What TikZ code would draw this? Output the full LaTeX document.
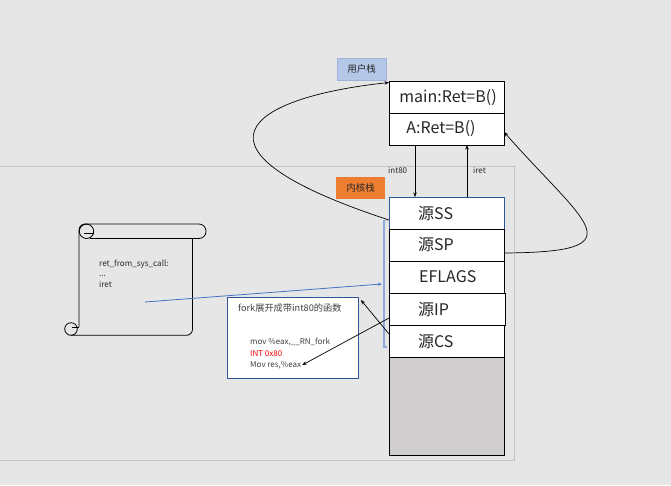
\documentclass[tikz,border=0pt]{standalone}
\usepackage{fontspec}
\setmainfont{Noto Sans CJK SC}
\usetikzlibrary{arrows.meta}
\definecolor{bgc}{HTML}{E6E6E6}
\definecolor{areab}{HTML}{C4C4C4}
\definecolor{ublue}{HTML}{B4C7E7}
\definecolor{ubord}{HTML}{9DB3D8}
\definecolor{korange}{HTML}{ED7D31}
\definecolor{dblue}{HTML}{2F5597}
\definecolor{mblue}{HTML}{4472C4}
\definecolor{lblue}{HTML}{8FAADC}
\definecolor{stgray}{HTML}{D0CECE}
\definecolor{txt}{HTML}{262626}
\definecolor{ftxt}{HTML}{404040}
\begin{document}
\begin{tikzpicture}[x=1pt,y=-1pt,
  stk/.style={draw=black, line width=0.9pt, fill=white, minimum width=115pt, minimum height=32pt, anchor=north west, inner sep=0pt, outer sep=0pt},
  bigt/.style={font=\fontsize{16}{18}\selectfont, text=txt, inner sep=0pt},
  tagbox/.style={font=\fontsize{9.5}{11}\selectfont, text=txt, inner sep=0pt, minimum width=49pt, minimum height=22.5pt, anchor=north west, outer sep=0pt},
  arr/.style={-{Stealth[length=4.5pt,width=3.5pt]}, line width=0.7pt, draw=black},
  small/.style={font=\fontsize{8}{9}\selectfont, text=txt, inner sep=0pt},
  ftext/.style={font=\fontsize{8}{9}\selectfont, text=ftxt, inner sep=0pt, anchor=west},
  scrl/.style={line width=0.8pt, draw=black}
]
\useasboundingbox (0,0) rectangle (671,485);
\fill[bgc] (0,0) rectangle (671,485);
% kernel area
\draw[areab, line width=0.8pt] (-3,166) rectangle (514,460);

% user stack
\node[stk] (main) at (389,81) {};
\node[stk] (A) at (389,113) {};
\node[bigt] (maintxt) at (448,97.5) {main:Ret=B()};
\node[bigt] (Atxt) at (441,129) {A:Ret=B()};
\node[tagbox, fill=ublue, draw=ubord, line width=0.5pt] (ustag) at (337,58) {用户栈};

% kernel stack
\node[stk, draw=dblue] (ss) at (389,197) {};
\node[stk] (sp) at (389,229) {};
\node[stk] (ef) at (389,261) {};
\node[stk, minimum width=116pt, line width=1pt] (ip) at (389,293) {};
\node[stk] (cs) at (389,325) {};
\node[stk, fill=stgray, minimum height=98pt] (rest) at (389,357) {};
\node[bigt, anchor=west] (sst) at (418,213.5) {源SS};
\node[bigt, anchor=west] (spt) at (418,245) {源SP};
\node[bigt, anchor=west] (eft) at (419,277) {EFLAGS};
\node[bigt, anchor=west] (ipt) at (418,309.5) {源IP};
\node[bigt, anchor=west] (cst) at (418,341.5) {源CS};
\node[tagbox, fill=korange] (kstag) at (336,176.5) {内核栈};

% int80 / iret
\draw[arr] ([xshift=26pt]A.south west) -- ([xshift=26pt]ss.north west);
\draw[arr] ([xshift=78pt]ss.north west) -- ([xshift=78pt]A.south west);
\node[small, anchor=west] (int80) at (388,170) {int80};
\node[small, anchor=west] (iret) at (473,170.5) {iret};

% bracket
\draw[lblue, line width=1.2pt] (387,220.5) -- (384,220.5) -- (384,347) -- (387,347);
\coordinate (brk) at (382,284);

% curves
\draw[arr] ([yshift=-23pt]ss.north west) .. controls (175,150) and (245,98) .. ([yshift=-1.5pt]main.north west);
\draw[arr] ([yshift=-24pt]sp.north east) .. controls (640,252) and (586,225) .. ([yshift=-19pt]A.north east);

% scroll
\draw[scrl, rounded corners=7pt] (86,224) -- (206,224) -- (206,238.5) -- (90,238.5);
\draw[scrl, rounded corners=6pt] (79,327) -- (79,224) -- (87,224);
\draw[scrl] (86.5,231.3) circle (7.2);
\draw[scrl] (84,233) -- (93.7,233);
\draw[scrl, rounded corners=6pt] (192.5,238.5) -- (192.5,335.3) -- (71,335.3);
\draw[scrl] (71,329) circle (6.3);
\draw[scrl] (72,327) -- (79,327);
\node[small, font=\fontsize{8.1}{10.5}\selectfont, anchor=north west, align=left] (scrolltxt) at (99,259.5) {ret\_from\_sys\_call:\\...\\iret};
\coordinate (scrollpt) at (145,302);
\draw[mblue, line width=0.8pt, -{Stealth[length=4pt,width=3pt]}] (scrollpt) -- (brk);

% fork box
\node[draw=dblue, line width=0.9pt, fill=white, minimum width=131pt, minimum height=81pt, anchor=north west, inner sep=0pt] (fork) at (227,297) {};
\node[font=\fontsize{9.2}{11}\selectfont, text=ftxt, inner sep=0pt, anchor=west] (forkt) at (238,308) {fork展开成带int80的函数};
\node[ftext] (mov1) at (250,342) {mov \%eax,\_\_RN\_fork};
\node[ftext, text=red] (int) at (250,353.5) {INT 0x80};
\node[ftext] (mov2) at (250,365) {Mov res,\%eax};

\draw[arr] ([yshift=-25pt]ip.north west) -- ([xshift=1pt]mov2.east);
\draw[arr] ([yshift=-9pt]cs.north west) -- ([xshift=2pt,yshift=-3pt]fork.north east);
\end{tikzpicture}
\end{document}
